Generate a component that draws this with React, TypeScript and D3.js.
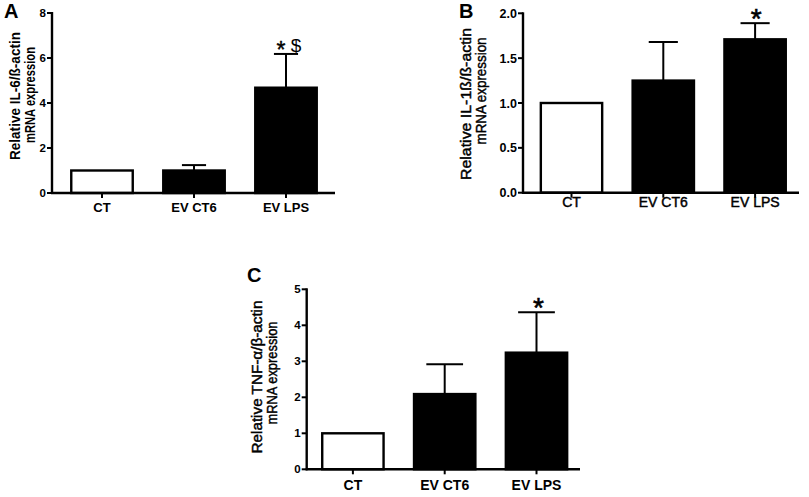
import React from 'react';
import * as d3 from 'd3';

const categories = ['CT', 'EV CT6', 'EV LPS'];

const il6Means = [1.0, 1.0, 4.68];
const il6Sem = [0, 0.24, 1.5];
const il6Ticks = [0, 2, 4, 6, 8];

const il1bMeans = [1.0, 1.25, 1.71];
const il1bSem = [0, 0.43, 0.18];
const il1bTicks = [0, 0.5, 1.0, 1.5, 2.0];

const tnfMeans = [1.0, 2.09, 3.24];
const tnfSem = [0, 0.83, 1.12];
const tnfTicks = [0, 1, 2, 3, 4, 5];

const barFills = ['#ffffff', '#000000', '#000000'];

const FONT = '"Liberation Sans", Arial, Helvetica, sans-serif';

interface AnnotPart {
  text: string;
  size: number;
  dx: number;
  dy: number;
  stroke: number;
}

interface PanelProps {
  letter: string;
  letterPos: [number, number];
  means: number[];
  sem: number[];
  ticks: number[];
  tickFormat: (d: number) => string;
  axisX: number;
  axisEnd: number;
  yTop: number;
  yBottom: number;
  bandRange: [number, number];
  capFrac: number;
  yLabel: [string, string];
  yLabelX: [number, number];
  yLabelLen: [number, number];
  yLabelCenter: [number, number];
  yLabelWeight: string;
  yLabelStroke: number;
  yLabelSize: number;
  xLabelSize: number;
  xLabelWeight: string;
  xLabelStroke: number;
  xLabelDy: number;
  tickSize: number;
  annotIndex: number;
  annotation: AnnotPart[];
}

const Panel: React.FC<PanelProps> = (p) => {
  const y = d3.scaleLinear()
    .domain([0, p.ticks[p.ticks.length - 1]])
    .range([p.yBottom, p.yTop]);
  const x = d3.scaleBand<string>()
    .domain(categories)
    .range(p.bandRange)
    .paddingInner(0.31)
    .paddingOuter(0.155);
  const bw = x.bandwidth();
  const cap = bw * p.capFrac;
  const ai = p.annotIndex;
  const ac = (x(categories[ai]) || 0) + bw / 2;
  const aTop = y(p.means[ai] + p.sem[ai]);

  return (
    <g fontFamily={FONT}>
      <text x={p.letterPos[0]} y={p.letterPos[1]} fontSize={20} fontWeight="bold">{p.letter}</text>

      {/* bars */}
      {categories.map((c, i) => {
        const cx = (x(c) || 0) + bw / 2;
        const top = y(p.means[i]);
        const errTop = y(p.means[i] + p.sem[i]);
        return (
          <g key={c}>
            {p.sem[i] > 0 && (
              <g stroke="#000" strokeWidth={2}>
                <line x1={cx} x2={cx} y1={top} y2={errTop} />
                <line x1={cx - cap} x2={cx + cap} y1={errTop} y2={errTop} />
              </g>
            )}
            <rect
              x={(x(c) || 0) + 1}
              y={top}
              width={bw - 2}
              height={p.yBottom - top}
              fill={barFills[i]}
              stroke="#000"
              strokeWidth={2.4}
            />
          </g>
        );
      })}

      {/* y axis */}
      <line x1={p.axisX} x2={p.axisX} y1={p.yTop - 1} y2={p.yBottom + 1} stroke="#000" strokeWidth={2.4} />
      {p.ticks.map((t) => (
        <g key={t}>
          <line x1={p.axisX - 5} x2={p.axisX} y1={y(t)} y2={y(t)} stroke="#000" strokeWidth={2} />
          <text
            x={p.axisX - 6}
            y={y(t)}
            dy="0.36em"
            textAnchor="end"
            fontSize={p.tickSize}
            fontWeight="bold"
          >
            {p.tickFormat(t)}
          </text>
        </g>
      ))}

      {/* x axis */}
      <line x1={p.axisX - 1} x2={p.axisEnd} y1={p.yBottom} y2={p.yBottom} stroke="#000" strokeWidth={2.4} />
      {categories.map((c) => {
        const cx = (x(c) || 0) + bw / 2;
        return (
          <g key={c}>
            <line x1={cx} x2={cx} y1={p.yBottom} y2={p.yBottom + 5} stroke="#000" strokeWidth={2} />
            <text
              x={cx}
              y={p.yBottom + p.xLabelDy}
              textAnchor="middle"
              fontSize={p.xLabelSize}
              fontWeight={p.xLabelWeight}
              stroke="#000"
              strokeWidth={p.xLabelStroke}
            >
              {c}
            </text>
          </g>
        );
      })}

      {/* y label */}
      {p.yLabel.map((line, i) => (
        <text
          key={i}
          transform={`translate(${p.yLabelX[i]},${p.yLabelCenter[i]}) rotate(-90)`}
          textAnchor="middle"
          fontSize={p.yLabelSize}
          fontWeight={p.yLabelWeight}
          stroke="#000"
          strokeWidth={p.yLabelStroke}
          textLength={p.yLabelLen[i]}
          lengthAdjust="spacingAndGlyphs"
        >
          {line}
        </text>
      ))}

      {/* significance marks */}
      {p.annotation.map((part, i) => (
        <text
          key={i}
          x={ac + part.dx}
          y={aTop + part.dy}
          textAnchor="middle"
          fontSize={part.size}
          stroke="#000"
          strokeWidth={part.stroke}
        >
          {part.text}
        </text>
      ))}
    </g>
  );
};

const App: React.FC = () => {
  return (
    <svg
      width={809}
      height={497}
      style={{ position: 'absolute', left: 0, top: 0, background: '#fff' }}
    >
      <rect width={809} height={497} fill="#fff" />
      <Panel
        letter="A"
        letterPos={[4, 18]}
        means={il6Means}
        sem={il6Sem}
        ticks={il6Ticks}
        tickFormat={(d) => d3.format('d')(d)}
        axisX={52}
        axisEnd={335}
        yTop={13}
        yBottom={193}
        bandRange={[56, 332]}
        capFrac={0.19}
        yLabel={['Relative IL-6/ß-actin', 'mRNA expression']}
        yLabelX={[20, 35]}
        yLabelLen={[128, 96]}
        yLabelCenter={[96, 95]}
        yLabelWeight="bold"
        yLabelStroke={0}
        yLabelSize={14}
        xLabelSize={13}
        xLabelWeight="bold"
        xLabelStroke={0}
        xLabelDy={19}
        tickSize={11.5}
        annotIndex={2}
        annotation={[
          { text: '*', size: 23, dx: -5, dy: 4, stroke: 0.4 },
          { text: '$', size: 19, dx: 10, dy: -1.5, stroke: 0 },
        ]}
      />
      <Panel
        letter="B"
        letterPos={[459, 18]}
        means={il1bMeans}
        sem={il1bSem}
        ticks={il1bTicks}
        tickFormat={(d) => d3.format('.1f')(d)}
        axisX={523}
        axisEnd={799}
        yTop={13.3}
        yBottom={192.7}
        bandRange={[525.6, 801]}
        capFrac={0.23}
        yLabel={['Relative IL-1ß/ß-actin', 'mRNA expression']}
        yLabelX={[471, 485.5]}
        yLabelLen={[152, 107]}
        yLabelCenter={[104, 91]}
        yLabelWeight="normal"
        yLabelStroke={0.45}
        yLabelSize={15}
        xLabelSize={14}
        xLabelWeight="normal"
        xLabelStroke={0.45}
        xLabelDy={14}
        tickSize={12.5}
        annotIndex={2}
        annotation={[{ text: '*', size: 28, dx: 1, dy: 5, stroke: 0.6 }]}
      />
      <Panel
        letter="C"
        letterPos={[247, 282]}
        means={tnfMeans}
        sem={tnfSem}
        ticks={tnfTicks}
        tickFormat={(d) => d3.format('d')(d)}
        axisX={306.7}
        axisEnd={580}
        yTop={289.3}
        yBottom={469.3}
        bandRange={[307, 582.4]}
        capFrac={0.29}
        yLabel={['Relative TNF-α/β-actin', 'mRNA expression']}
        yLabelX={[261.5, 276.5]}
        yLabelLen={[153, 103]}
        yLabelCenter={[377, 373]}
        yLabelWeight="normal"
        yLabelStroke={0.45}
        yLabelSize={15}
        xLabelSize={14}
        xLabelWeight="bold"
        xLabelStroke={0}
        xLabelDy={20.5}
        tickSize={11.5}
        annotIndex={2}
        annotation={[{ text: '*', size: 28, dx: 2, dy: 5, stroke: 0.6 }]}
      />
    </svg>
  );
};

export default App;
